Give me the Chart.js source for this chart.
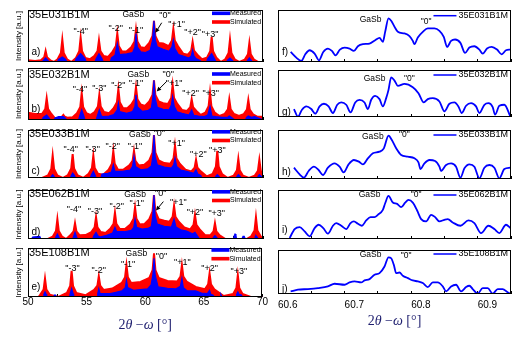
<!DOCTYPE html>
<html>
<head>
<meta charset="utf-8">
<script src="https://cdn.jsdelivr.net/npm/chart.js@4.4.0/dist/chart.umd.min.js"></script>
<style>
body { margin: 0; background: #fff; width: 532px; height: 347px; position: relative; overflow: hidden; }
canvas { position: absolute; }
</style>
</head>
<body>
<script>
// ---- left column: [2theta, intensity a.u.] ----
var redA = [[50.0,5],[50.6,3],
  [51.1,5],[51.38,14],[51.5,33],[51.62,14],[51.9,5],[52.2,0],
  [52.52,8],[52.8,27],[52.92,67],[53.04,27],[53.32,8],[53.7,0],
  [54.08,12],[54.36,32],[54.48,73],[54.6,32],[54.88,12],[55.26,8],
  [55.64,18],[55.92,33],[56.04,65],[56.16,33],[56.44,18],[56.82,15],
  [57.2,31],[57.48,48],[57.6,85],[57.72,48],[58.0,31],[58.4,32],
  [58.79,44],[59.07,61],[59.19,97],[59.31,61],[59.59,44],[59.95,42],
  [60.32,57],[60.6,78],[60.72,123],[60.84,78],[61.12,57],[61.5,55],
  [61.97,47],[62.25,64],[62.37,99],[62.49,64],[62.77,47],[63.2,25],
  [63.61,22],[63.89,34],[64.01,60],[64.13,34],[64.41,22],[64.8,8],
  [65.23,13],[65.51,32],[65.63,75],[65.75,32],[66.03,13],[66.4,0],
  [66.79,8],[67.07,27],[67.19,67],[67.31,27],[67.59,8],[68.0,0],
  [68.44,7],[68.72,23],[68.84,57],[68.96,23],[69.24,7],[69.6,0],[70,0]];
var blueA = [[50.0,0],[51.2,0],[51.35,6],[51.5,12],[51.65,6],[51.8,0],
  [52.5,0],[52.6,8],[52.92,15],[53.2,8],[53.3,0],
  [54.0,0],[54.1,10],[54.48,25],[54.85,10],[54.95,0],
  [55.7,0],[55.8,10],[56.04,25],[56.3,10],[56.4,0],
  [57.0,0],[57.1,12],[57.4,20],[57.6,55],[57.8,22],[58.4,24],[58.9,28],[59.1,45],[59.19,85],[59.3,45],
  [59.6,30],[60.0,28],[60.4,35],[60.6,65],[60.72,123],[60.84,65],[61.0,45],[61.5,38],[62.0,32],
  [62.25,45],[62.37,65],[62.5,40],[62.8,22],[63.2,18],[63.7,12],[63.9,18],[64.01,35],[64.12,18],
  [64.3,10],[64.6,5],[64.8,0],
  [65.2,0],[65.3,10],[65.63,25],[65.9,8],[66.0,0],
  [66.9,0],[67.0,6],[67.19,12],[67.4,5],[67.5,0],
  [68.6,0],[68.7,6],[68.84,12],[69.0,5],[69.1,0],[70,0]];

var redB = [[50.0,22],[50.6,18],
  [51.19,18],[51.47,33],[51.59,65],[51.71,33],[51.99,18],[52.3,5],
  [52.7,7],[52.9,10],[53.01,15],[53.12,10],[53.35,7],[53.8,8],
  [54.17,20],[54.45,39],[54.57,80],[54.69,39],[54.97,20],[55.3,15],
  [55.67,24],[55.95,40],[56.07,75],[56.19,40],[56.47,24],[56.9,20],
  [57.29,35],[57.57,53],[57.69,92],[57.81,53],[58.09,35],[58.45,35],
  [58.79,46],[59.07,62],[59.19,98],[59.31,62],[59.59,46],[59.95,42],
  [60.32,55],[60.6,75],[60.72,118],[60.84,75],[61.12,55],[61.5,50],
  [61.91,48],[62.19,66],[62.31,105],[62.43,66],[62.71,48],[63.1,30],
  [63.53,27],[63.81,38],[63.93,62],[64.05,38],[64.33,27],[64.7,15],
  [65.09,22],[65.37,41],[65.49,82],[65.61,41],[65.89,22],[66.3,12],
  [66.73,18],[67.01,32],[67.13,62],[67.25,32],[67.53,18],[67.95,12],
  [68.35,17],[68.63,31],[68.75,60],[68.87,31],[69.15,17],[69.5,10],[70,10]];
var blueB = [[50.0,0],[51.2,0],[51.3,8],[51.59,15],[51.8,6],[51.9,0],
  [52.2,0],[52.3,6],[52.6,10],[53.01,10],[53.2,5],[53.3,0],
  [54.3,0],[54.4,12],[54.57,30],[54.75,12],[54.85,0],
  [55.8,0],[55.9,12],[56.07,30],[56.25,12],[56.4,10],[56.9,12],[57.3,16],[57.6,30],[57.69,50],[57.8,25],
  [58.4,20],[58.9,25],[59.1,40],[59.19,75],[59.3,40],[59.7,26],[60.2,28],[60.5,36],[60.62,65],[60.72,118],
  [60.82,65],[61.0,38],[61.5,32],[62.0,30],[62.2,45],[62.31,70],[62.45,40],[62.7,24],[63.1,20],[63.7,15],
  [63.93,30],[64.1,14],[64.5,12],[65.0,10],[65.3,15],[65.49,40],[65.65,12],[66.0,10],[66.5,8],[67.0,8],
  [67.13,12],[67.3,8],[67.6,0],
  [68.5,0],[68.6,8],[68.75,12],[69.0,8],[69.3,10],[69.6,6],[70,0]];

var redC = [[50.0,0],[51.2,0],
  [51.7,8],[51.98,27],[52.1,68],[52.22,27],[52.5,8],[52.95,0],
  [53.4,9],[53.68,29],[53.8,72],[53.92,29],[54.2,9],[54.7,0],
  [55.16,13],[55.44,30],[55.56,68],[55.68,30],[55.96,13],[56.4,10],
  [56.86,25],[57.14,43],[57.26,82],[57.38,43],[57.66,25],[58.1,25],
  [58.62,38],[58.9,52],[59.02,82],[59.14,52],[59.42,38],[59.9,40],
  [60.32,53],[60.6,77],[60.72,130],[60.84,77],[61.12,53],[61.6,45],
  [62.11,43],[62.39,60],[62.51,98],[62.63,60],[62.91,43],[63.4,25],
  [63.9,20],[64.18,31],[64.3,55],[64.42,31],[64.7,20],[65.2,5],
  [65.71,12],[65.99,34],[66.11,82],[66.23,34],[66.51,12],[67.0,0],
  [67.5,7],[67.78,23],[67.9,58],[68.02,23],[68.3,7],[68.8,0],
  [69.29,7],[69.57,22],[69.69,55],[69.81,22],[70.09,7]];
var blueC = [[50.0,0],[51.9,0],[52.0,6],[52.1,10],[52.2,6],[52.3,0],
  [53.6,0],[53.7,8],[53.8,15],[53.95,8],[54.05,0],
  [55.3,0],[55.4,10],[55.56,20],[55.7,10],[55.8,0],
  [56.2,0],[56.3,12],[56.8,14],[57.1,18],[57.26,40],[57.4,20],[58.0,20],[58.7,24],[58.9,35],[59.02,65],
  [59.15,35],[59.6,25],[60.2,28],[60.5,36],[60.62,65],[60.72,130],[60.82,65],[61.0,40],[61.6,33],[62.2,30],
  [62.4,40],[62.51,60],[62.65,35],[63.0,24],[63.5,20],[64.1,14],[64.3,25],[64.45,12],[64.7,8],[64.8,0],
  [65.9,0],[66.0,6],[66.11,10],[66.25,5],[66.35,0],
  [67.7,0],[67.8,6],[67.9,10],[68.05,5],[68.15,0],
  [69.5,0],[69.6,6],[69.69,10],[69.85,5],[70,0]];

var redD = [[50.0,0],[51.7,0],
  [52.1,7],[52.38,24],[52.5,60],[52.62,24],[52.9,7],[53.25,0],
  [53.6,11],[53.88,23],[54.0,48],[54.12,23],[54.4,11],[54.9,12],
  [55.39,21],[55.67,35],[55.79,66],[55.91,35],[56.19,21],[56.6,18],
  [57.0,31],[57.28,46],[57.4,80],[57.52,46],[57.8,31],[58.25,30],
  [58.71,44],[58.99,61],[59.11,96],[59.23,61],[59.51,44],[59.9,45],
  [60.32,60],[60.6,83],[60.72,133],[60.84,83],[61.12,60],[61.6,55],
  [62.03,52],[62.31,67],[62.43,100],[62.55,67],[62.83,52],[63.3,35],
  [63.81,29],[64.09,43],[64.21,73],[64.33,43],[64.61,29],[65.05,12],
  [65.51,11],[65.79,23],[65.91,48],[66.03,23],[66.31,11],[66.8,0],[68.6,0],
  [69.0,8],[69.28,26],[69.4,66],[69.52,26],[69.8,8],[70,0]];
var blueD = [[50.0,0],[50.3,0],[50.4,6],[51.0,8],[51.1,0],
  [52.3,0],[52.4,8],[52.5,15],[52.6,8],[52.7,0],
  [53.8,0],[53.9,10],[54.0,20],[54.1,10],[54.2,0],
  [55.5,0],[55.6,10],[55.79,20],[55.95,10],[56.1,6],[56.6,10],[57.2,18],[57.4,35],[57.55,22],[58.2,22],
  [58.8,26],[59.0,35],[59.11,60],[59.25,35],[59.7,30],[60.2,32],[60.5,38],[60.62,70],[60.72,133],[60.82,70],
  [61.0,45],[61.6,38],[62.2,36],[62.43,60],[62.6,36],[63.0,28],[63.5,24],[64.0,16],[64.21,20],[64.4,10],[64.6,0],
  [65.7,0],[65.8,6],[65.91,10],[66.05,5],[66.15,0],
  [67.5,0],[67.55,10],[67.62,15],[67.7,10],[67.75,0],
  [68.2,0],[68.3,8],[68.4,8],[68.5,0],
  [69.3,0],[69.35,8],[69.4,10],[69.5,6],[69.6,0],[70,0]];

var redE = [[50.0,0],[50.9,0],
  [51.05,7],[51.33,22],[51.45,55],[51.57,22],[51.85,7],[52.6,0],
  [53.32,12],[53.6,33],[53.72,78],[53.84,33],[54.12,12],[54.9,5],
  [55.64,21],[55.92,34],[56.04,62],[56.16,34],[56.44,21],[57.2,25],
  [58.0,42],[58.28,59],[58.4,95],[58.52,59],[58.8,42],[59.6,45],
  [60.35,57],[60.63,80],[60.75,130],[60.87,80],[61.15,57],[61.9,48],
  [62.73,46],[63.01,61],[63.13,95],[63.25,61],[63.53,46],[64.3,30],
  [65.09,23],[65.37,38],[65.49,70],[65.61,38],[65.89,23],[66.7,3],
  [67.5,9],[67.78,27],[67.9,65],[68.02,27],[68.3,9],[69.0,0],[70,0]];
var blueE = [[50.0,0],[51.3,0],[51.35,8],[51.45,15],[51.55,8],[51.6,0],
  [52.2,0],[52.25,6],[52.35,6],[52.4,0],
  [53.55,0],[53.6,10],[53.72,25],[53.85,10],[53.9,0],
  [55.9,0],[55.95,10],[56.04,25],[56.15,10],[56.5,10],[57.0,10],[57.5,14],[58.0,18],[58.3,28],[58.4,50],
  [58.5,28],[59.0,20],[59.6,22],[60.2,24],[60.5,36],[60.65,65],[60.75,115],[60.85,65],[61.1,30],[61.9,26],
  [62.6,24],[63.0,32],[63.13,55],[63.25,28],[63.6,18],[64.3,18],[64.8,12],[65.3,10],[65.49,20],[65.6,8],
  [65.8,5],[65.9,0],
  [66.4,0],[66.45,8],[66.55,0],
  [67.75,0],[67.8,8],[67.9,15],[68.0,8],[68.2,6],[68.3,0],[70,0]];

// ---- right column: zoom on the "0" peak ----
var curveF = [[60.619,30],[60.6275,13],[60.635,3],[60.641,23],[60.6475,35],[60.655,25],[60.6615,5],
  [60.668,30],[60.675,40],[60.681,33],[60.6865,20],[60.693,37],[60.70,43],[60.7075,40],[60.714,33],
  [60.72,47],[60.7275,53],[60.7375,55],[60.746,65],[60.7525,72],[60.7575,60],[60.761,90],[60.766,130],
  [60.77,123],[60.775,105],[60.78,90],[60.79,85],[60.7975,77],[60.8025,63],[60.805,53],[60.81,73],
  [60.8175,90],[60.825,100],[60.835,100],[60.8425,93],[60.849,75],[60.854,45],[60.86,63],[60.866,67],
  [60.874,57],[60.881,27],[60.8875,43],[60.895,47],[60.9025,37],[60.9075,25],[60.914,40],[60.921,45],
  [60.929,37],[60.936,23],[60.9425,35],[60.949,37]];
var curveG = [[60.624,24],[60.63,1],[60.636,22],[60.6425,32],[60.65,24],[60.656,10],[60.6625,32],
  [60.669,40],[60.676,32],[60.6825,12],[60.689,37],[60.695,44],[60.7025,37],[60.709,14],[60.716,44],
  [60.7225,52],[60.73,44],[60.735,24],[60.74,52],[60.746,64],[60.7525,54],[60.7575,32],[60.7625,57],
  [60.766,82],[60.77,120],[60.775,110],[60.78,94],[60.79,100],[60.8025,90],[60.811,72],[60.819,44],
  [60.825,54],[60.8325,57],[60.8425,47],[60.85,17],[60.8575,40],[60.865,44],[60.871,32],[60.876,12],
  [60.8825,34],[60.89,42],[60.8975,32],[60.9025,12],[60.91,37],[60.916,42],[60.9225,30],[60.926,7],
  [60.9325,34],[60.94,37],[60.949,2]];
var curveH = [[60.624,34],[60.6325,14],[60.639,4],[60.646,24],[60.654,37],[60.661,27],[60.6675,12],
  [60.675,34],[60.685,47],[60.6925,37],[60.6985,20],[60.706,44],[60.714,57],[60.7215,52],[60.7275,44],
  [60.735,62],[60.7425,77],[60.7525,82],[60.759,92],[60.766,130],[60.771,117],[60.7775,92],[60.785,72],
  [60.795,67],[60.805,62],[60.811,50],[60.814,30],[60.82,47],[60.8275,57],[60.836,54],[60.8425,37],
  [60.845,24],[60.8525,42],[60.86,47],[60.8675,37],[60.874,4],[60.88,32],[60.8875,44],[60.895,37],
  [60.9025,2],[60.91,34],[60.9175,42],[60.925,34],[60.9325,2],[60.94,30],[60.949,34]];
var curveI = [[60.6175,3],[60.625,30],[60.6325,36],[60.64,23],[60.6475,8],[60.655,33],[60.661,43],
  [60.668,33],[60.675,16],[60.6825,40],[60.6875,48],[60.695,40],[60.7025,30],[60.709,48],[60.714,53],
  [60.72,46],[60.726,40],[60.7325,56],[60.739,66],[60.745,66],[60.75,73],[60.7575,88],[60.761,108],
  [60.766,130],[60.7725,110],[60.779,106],[60.785,96],[60.791,110],[60.796,118],[60.8025,110],[60.809,86],
  [60.815,60],[60.8225,53],[60.83,73],[60.836,66],[60.8425,53],[60.85,58],[60.855,60],[60.8625,50],
  [60.874,40],[60.886,56],[60.895,48],[60.905,18],[60.916,40],[60.925,30],[60.9325,18],[60.9425,43],[60.949,33]];
var curveJ = [[60.619,8],[60.63,13],[60.645,15],[60.66,18],[60.675,23],[60.685,31],[60.70,28],
  [60.7075,35],[60.715,38],[60.725,35],[60.73,41],[60.7375,45],[60.745,58],[60.7525,63],[60.76,83],
  [60.766,111],[60.77,108],[60.774,88],[60.7775,63],[60.7825,65],[60.7875,55],[60.795,48],[60.8025,41],
  [60.81,38],[60.8175,33],[60.825,21],[60.8325,35],[60.84,35],[60.8475,23],[60.8525,8],[60.86,23],
  [60.8675,28],[60.875,8],[60.8825,21],[60.8875,25],[60.8925,15],[60.90,1],[60.9075,18],[60.915,18],
  [60.9225,1],[60.93,15],[60.9375,15],[60.945,5],[60.949,1]];

// ---- annotations [text, 2theta, a.u.] ----
var marksA = [['GaSb',58.96,140],['"0"',61.66,140],['"-4"',54.48,90],['"-2"',57.46,100],['"-1"',59.19,95],
  ['"+1"',62.65,113],['"+2"',64.01,88],['"+3"',65.49,83]];
var marksB = [['GaSb',59.39,135],['"0"',61.94,135],['"-4"',54.43,92],['"-3"',56.07,95],['"-2"',57.69,102],
  ['"-1"',59.19,108],['"+1"',62.43,108],['"+2"',63.84,80],['"+3"',65.55,80]];
var marksC = [['GaSb',59.53,130],['"0"',61.18,135],['"-4"',53.63,85],['"-3"',55.50,85],['"-2"',57.21,95],
  ['"-1"',59.11,95],['"+1"',62.65,105],['"+2"',64.50,72],['"+3"',66.11,82]];
var marksD = [['GaSb',59.11,133],['"0"',61.29,138],['"-4"',53.91,88],['"-3"',55.70,83],['"-2"',57.55,98],
  ['"-1"',59.25,108],['"+1"',62.79,110],['"+2"',64.21,80],['"+3"',66.06,78]];
var marksE = [['GaSb',59.25,128],['"0"',61.38,122],['"-3"',53.80,85],['"-2"',56.04,78],['"-1"',58.54,98],
  ['"+1"',63.16,102],['"+2"',65.49,85],['"+3"',67.99,75]];
var arrowA = [61.38,117,60.84,87];
var arrowB = [61.80,115,60.95,85];
var arrowD = [61.52,113,60.89,86];

var marksF = [['GaSb',60.739,125],['"0"',60.8225,120]];
var marksG = [['GaSb',60.745,117],['"0"',60.7975,117]];
var marksH = [['GaSb',60.7425,127],['"0"',60.79,132]];
var marksI = [['GaSb',60.7375,133],['"0"',60.8075,133]];
var marksJ = [['GaSb',60.739,118],['"0"',60.7925,115]];

var FONT = '"Liberation Sans", Arial, sans-serif';

var leftCfg = [
  {name: '35E031B1M', letter: 'a)', red: redA, blue: blueA, marks: marksA, arrow: arrowA, top: 10, bottom: 62, range: 155, titleDy: 5, legDy: 3.3, letterDy: -10},
  {name: '35E032B1M', letter: 'b)', red: redB, blue: blueB, marks: marksB, arrow: arrowB, top: 68, bottom: 120, range: 155, titleDy: 7, legDy: 6, letterDy: -11},
  {name: '35E033B1M', letter: 'c)', red: redC, blue: blueC, marks: marksC, arrow: null, top: 130, bottom: 178, range: 145, titleDy: 3.5, legDy: 1.8, letterDy: -7},
  {name: '35E062B1M', letter: 'd)', red: redD, blue: blueD, marks: marksD, arrow: arrowD, top: 190, bottom: 239, range: 148, titleDy: 3.5, legDy: 1.8, letterDy: -7},
  {name: '35E108B1M', letter: 'e)', red: redE, blue: blueE, marks: marksE, arrow: null, top: 248, bottom: 297, range: 146, titleDy: 5, legDy: 2, letterDy: -10, last: true}
];
var rightCfg = [
  {name: '35E031B1M', letter: 'f)', curve: curveF, marks: marksF, top: 10, bottom: 62, range: 155, legDy: 5.7, letterDy: -10},
  {name: '35E032B1M', letter: 'g)', curve: curveG, marks: marksG, top: 70, bottom: 117, range: 142, legDy: 5, letterDy: -5},
  {name: '35E033B1M', letter: 'h)', curve: curveH, marks: marksH, top: 130, bottom: 179, range: 147, legDy: 5, letterDy: -7},
  {name: '35E062B1M', letter: 'i)', curve: curveI, marks: marksI, top: 190, bottom: 239, range: 148, legDy: 5, letterDy: -8.5},
  {name: '35E108B1M', letter: 'j)', curve: curveJ, marks: marksJ, top: 250, bottom: 294, range: 133, legDy: 4, letterDy: -5, last: true}
];

function drawAxisTitle(ctx, cx, cy) {
  var parts = [['2', ''], ['\u03b8', 'italic '], [' \u2212', ''], ['\u03c9', 'italic '], [' [\u00b0]', '']];
  var w = 0;
  parts.forEach(function(p) {
    ctx.font = p[1] + '14px "Liberation Serif", serif';
    w += ctx.measureText(p[0]).width;
  });
  var x = cx - w / 2;
  ctx.fillStyle = '#1e1e6e';
  ctx.textAlign = 'left';
  ctx.textBaseline = 'middle';
  parts.forEach(function(p) {
    ctx.font = p[1] + '14px "Liberation Serif", serif';
    ctx.fillText(p[0], x, cy);
    x += ctx.measureText(p[0]).width;
  });
}

var deco = {
  id: 'deco',
  afterDraw: function(chart, args, o) {
    var ctx = chart.ctx, a = chart.chartArea;
    var xs = chart.scales.x, ys = chart.scales.y;
    ctx.save();
    ctx.strokeStyle = '#000';
    ctx.lineWidth = 1;
    var l = Math.round(a.left) + 0.5, t = Math.round(a.top) + 0.5;
    var r = Math.round(a.right) - 0.5, b = Math.round(a.bottom) - 0.5;
    ctx.strokeRect(l, t, r - l, b - t);

    ctx.fillStyle = '#000';
    ctx.textAlign = 'center';
    ctx.textBaseline = 'middle';
    o.marks.forEach(function(m) {
      ctx.font = (m[0] === 'GaSb' ? '8.5px ' : (o.side === 'left' ? '9px ' : '8.5px ')) + FONT;
      ctx.fillText(m[0], xs.getPixelForValue(m[1]), ys.getPixelForValue(m[2]));
    });

    if (o.arrow) {
      var x1 = xs.getPixelForValue(o.arrow[0]), y1 = ys.getPixelForValue(o.arrow[1]);
      var x2 = xs.getPixelForValue(o.arrow[2]), y2 = ys.getPixelForValue(o.arrow[3]);
      var ang = Math.atan2(y2 - y1, x2 - x1);
      ctx.beginPath();
      ctx.moveTo(x1, y1);
      ctx.lineTo(x2 - 3 * Math.cos(ang), y2 - 3 * Math.sin(ang));
      ctx.stroke();
      ctx.beginPath();
      ctx.moveTo(x2, y2);
      ctx.lineTo(x2 - 5 * Math.cos(ang - 0.45), y2 - 5 * Math.sin(ang - 0.45));
      ctx.lineTo(x2 - 5 * Math.cos(ang + 0.45), y2 - 5 * Math.sin(ang + 0.45));
      ctx.closePath();
      ctx.fill();
    }

    // panel letter
    ctx.textAlign = 'left';
    ctx.font = '10px ' + FONT;
    ctx.fillText(o.letter, a.left + (o.side === 'left' ? 3.5 : 4), a.bottom + o.letterDy);

    if (o.side === 'left') {
      ctx.font = '11px ' + FONT;
      ctx.fillText(o.name, a.left + 1, a.top + o.titleDy);
      // legend
      var ly = a.top + o.legDy;
      ctx.fillStyle = '#0000ff';
      ctx.fillRect(a.right - 51, ly - 1.8, 18, 3.6);
      ctx.fillStyle = '#ff0000';
      ctx.fillRect(a.right - 51, ly + 8.7 - 1.8, 18, 3.6);
      ctx.fillStyle = '#000';
      ctx.font = '7px ' + FONT;
      ctx.fillText('Measured', a.right - 33, ly);
      ctx.fillText('Simulated', a.right - 33, ly + 8.7);
      // y title
      ctx.save();
      ctx.translate(18.5, (a.top + a.bottom) / 2);
      ctx.rotate(-Math.PI / 2);
      ctx.textAlign = 'center';
      ctx.font = '8px ' + FONT;
      ctx.fillText('Intensity [a.u.]', 0, 0);
      ctx.restore();
    } else {
      var ry = a.top + o.legDy;
      ctx.font = '9px ' + FONT;
      ctx.textAlign = 'right';
      ctx.fillText(o.name, a.right - 3, ry);
      var tw = ctx.measureText(o.name).width;
      ctx.strokeStyle = '#0000ff';
      ctx.lineWidth = 1.5;
      ctx.beginPath();
      ctx.moveTo(a.right - 3 - tw - 25, ry);
      ctx.lineTo(a.right - 3 - tw - 2, ry);
      ctx.stroke();
    }

    if (o.last) {
      drawAxisTitle(ctx, (a.left + a.right) / 2, a.bottom + (o.side === 'left' ? 28 : 27.5));
    }
    ctx.restore();
  }
};

function makePanel(cfg, side) {
  var isLeft = side === 'left';
  var canvasLeft = isLeft ? 0 : 265;
  var canvasW = isLeft ? 270 : 267;
  var padTop = 4;
  var scaleH = cfg.last ? 347 - cfg.bottom : 0;
  var padBottom = cfg.last ? 0 : 3;
  var canvasTop = cfg.top - padTop;
  var canvasH = padTop + (cfg.bottom - cfg.top) + scaleH + padBottom;

  var cv = document.createElement('canvas');
  cv.width = canvasW;
  cv.height = canvasH;
  cv.style.left = canvasLeft + 'px';
  cv.style.top = canvasTop + 'px';
  document.body.appendChild(cv);

  var datasets;
  if (isLeft) {
    datasets = [
      {data: cfg.blue, borderColor: '#0000ff', backgroundColor: '#0000ff', borderWidth: 1.2, fill: 'origin', pointRadius: 0, tension: 0},
      {data: cfg.red, borderColor: '#ff0000', backgroundColor: '#ff0000', borderWidth: 2, fill: 'origin', pointRadius: 0, tension: 0}
    ];
  } else {
    datasets = [
      {data: cfg.curve, borderColor: '#0000ff', borderWidth: 1.8, fill: false, pointRadius: 0, cubicInterpolationMode: 'monotone'}
    ];
  }

  new Chart(cv, {
    type: 'line',
    data: {datasets: datasets},
    options: {
      responsive: false,
      animation: false,
      devicePixelRatio: 1,
      layout: {padding: {left: isLeft ? 28 : 13, right: isLeft ? 7 : 21, top: padTop, bottom: padBottom}},
      plugins: {
        legend: {display: false},
        tooltip: {enabled: false},
        deco: {side: side, name: cfg.name, letter: cfg.letter, marks: cfg.marks, arrow: cfg.arrow,
               titleDy: cfg.titleDy, legDy: cfg.legDy, letterDy: cfg.letterDy, last: !!cfg.last}
      },
      scales: {
        x: {
          type: 'linear',
          min: isLeft ? 50 : 60.6,
          max: isLeft ? 70 : 60.95,
          afterFit: function(s) { s.height = scaleH; },
          border: {display: false},
          grid: {drawOnChartArea: false, drawTicks: true, tickLength: -3, color: '#000', tickColor: '#000'},
          ticks: {
            display: !!cfg.last,
            stepSize: isLeft ? 2.5 : 0.05,
            autoSkip: false,
            maxRotation: 0,
            align: isLeft ? 'center' : 'start',
            padding: isLeft ? 2 : 8,
            color: '#000',
            font: {family: FONT, size: 10},
            callback: function(v) {
              if (isLeft) return Math.abs(v / 5 - Math.round(v / 5)) < 1e-6 ? String(v) : '';
              return Math.abs(v * 10 - Math.round(v * 10)) < 1e-6 ? v.toFixed(1) : '';
            }
          }
        },
        y: {display: false, min: 0, max: cfg.range}
      }
    },
    plugins: [deco]
  });
}

leftCfg.forEach(function(c) { makePanel(c, 'left'); });
rightCfg.forEach(function(c) { makePanel(c, 'right'); });
</script>
</body>
</html>
